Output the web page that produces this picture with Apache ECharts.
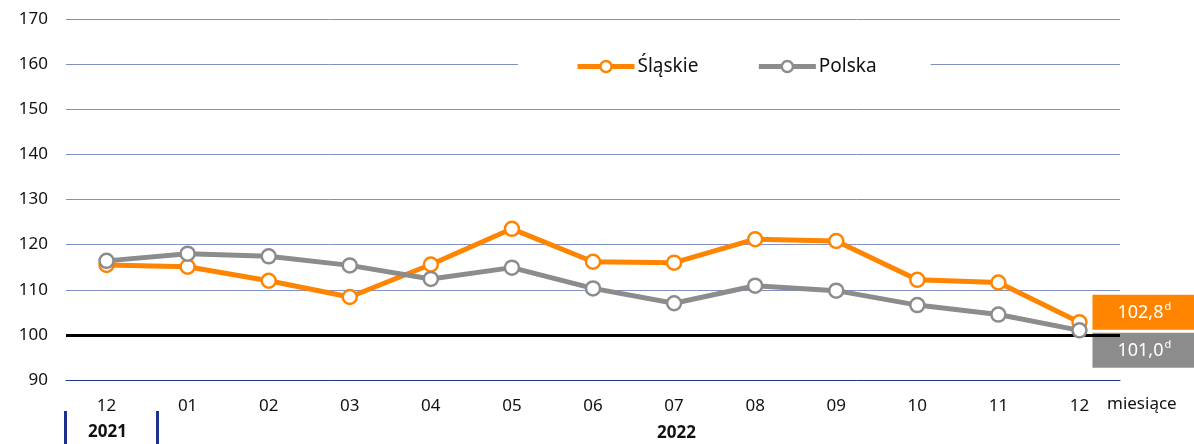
<!DOCTYPE html>
<html>
<head>
<meta charset="utf-8">
<script src="https://cdn.jsdelivr.net/npm/echarts@6/dist/echarts.min.js"></script>
<style>
html,body{margin:0;padding:0;background:#fff;}
#c{width:1194px;height:444px;}
</style>
</head>
<body>
<div id="c"></div>
<script>
const categories = ['12','01','02','03','04','05','06','07','08','09','10','11','12'];
const slaskie = [115.5, 115.1, 112.0, 108.4, 115.6, 123.5, 116.2, 116.0, 121.2, 120.8, 112.2, 111.6, 102.8];
const polska  = [116.4, 118.0, 117.4, 115.4, 112.4, 114.9, 110.3, 107.0, 110.9, 109.8, 106.6, 104.5, 101.0];
const seriesNames = ['Śląskie', 'Polska'];
const yTicks = {min: 90, max: 170, interval: 10};
const refLine = 100;
const endNote = 'd';
const axisName = 'miesiące';
const years = ['2021', '2022'];

const FONT = 'Noto Sans';
const ORANGE = '#ff8400';
const GRAY = '#8c8c8c';

const chart = echarts.init(document.getElementById('c'), null, {renderer: 'canvas'});

function lineSeries(name, data, color, extra) {
  return Object.assign({
    name: name,
    type: 'line',
    data: data,
    symbol: 'circle',
    symbolSize: 14,
    lineStyle: {color: color, width: 5},
    itemStyle: {color: '#fff', borderColor: color, borderWidth: 2.5},
    z: 3
  }, extra || {});
}

const staticGraphics = [
  {type: 'text', left: 1107, top: 396, style: {text: axisName, font: '17px "Noto Sans"', fill: '#111'}},
  {type: 'text', left: 88, top: 424, style: {text: years[0], font: 'bold 17px "Noto Sans"', fill: '#111'}},
  {type: 'text', left: 657, top: 425, style: {text: years[1], font: 'bold 17px "Noto Sans"', fill: '#111'}},
  {type: 'rect', shape: {x: 64, y: 411, width: 3, height: 33}, style: {fill: '#1f2f8c'}},
  {type: 'rect', shape: {x: 156, y: 411, width: 3, height: 33}, style: {fill: '#1f2f8c'}}
];

chart.setOption({
  animation: false,
  grid: {left: 66, right: 74, top: 19, bottom: 64, containLabel: false},
  legend: {
    data: seriesNames.map((n, i) => ({
      name: n,
      itemStyle: {color: '#fff', borderColor: i === 0 ? ORANGE : GRAY, borderWidth: 2.5},
      lineStyle: {color: i === 0 ? ORANGE : GRAY, width: 5}
    })),
    top: 55,
    left: 518,
    itemWidth: 57,
    itemHeight: 14,
    itemGap: 58,
    backgroundColor: '#fff',
    padding: [2, 54, 2, 57],
    textStyle: {fontFamily: FONT, fontSize: 19, color: '#111', padding: [0, 0, 0, -2]}
  },
  xAxis: {
    type: 'category',
    data: categories,
    boundaryGap: true,
    axisLine: {show: true, lineStyle: {color: '#1f3585', width: 1}},
    axisTick: {show: false},
    axisLabel: {fontFamily: FONT, fontSize: 17, color: '#111', margin: 18}
  },
  yAxis: {
    type: 'value',
    min: yTicks.min,
    max: yTicks.max,
    interval: yTicks.interval,
    axisLine: {show: false},
    axisTick: {show: false},
    axisLabel: {fontFamily: FONT, fontSize: 17, color: '#111', margin: 18},
    splitLine: {lineStyle: {color: '#8090c4', width: 1}}
  },
  graphic: staticGraphics,
  series: [
    lineSeries(seriesNames[0], slaskie, ORANGE, {
      markLine: {
        silent: true,
        symbol: 'none',
        label: {show: false},
        lineStyle: {color: '#000', width: 3, type: 'solid'},
        data: [{yAxis: refLine}],
        z: 1
      }
    }),
    lineSeries(seriesNames[1], polska, GRAY)
  ]
});

// value boxes next to the last points, placed through the chart's own scales
const last = categories.length - 1;
function valueBox(seriesIndex, values, color, topShift) {
  const p = chart.convertToPixel({seriesIndex: seriesIndex}, [last, values[last]]);
  return {
    type: 'group',
    x: p[0] + 13,
    y: p[1] + topShift,
    z: 10,
    children: [
      {type: 'rect', shape: {x: 0, y: 0, width: 110, height: 35}, style: {fill: color}},
      {type: 'text', x: 25, y: 18, style: {
        text: '{a|' + values[last].toFixed(1).replace('.', ',') + '}{b|' + endNote + '}',
        verticalAlign: 'middle',
        rich: {
          a: {fontFamily: FONT, fontSize: 18, fill: '#fff', lineHeight: 24},
          b: {fontFamily: FONT, fontSize: 11, fill: '#fff', lineHeight: 24, padding: [0, 0, 12, 1]}
        }
      }}
    ]
  };
}
chart.setOption({
  graphic: staticGraphics.concat([
    valueBox(0, slaskie, ORANGE, -27.4),
    valueBox(1, polska, GRAY, 2.5)
  ])
});
</script>
</body>
</html>
